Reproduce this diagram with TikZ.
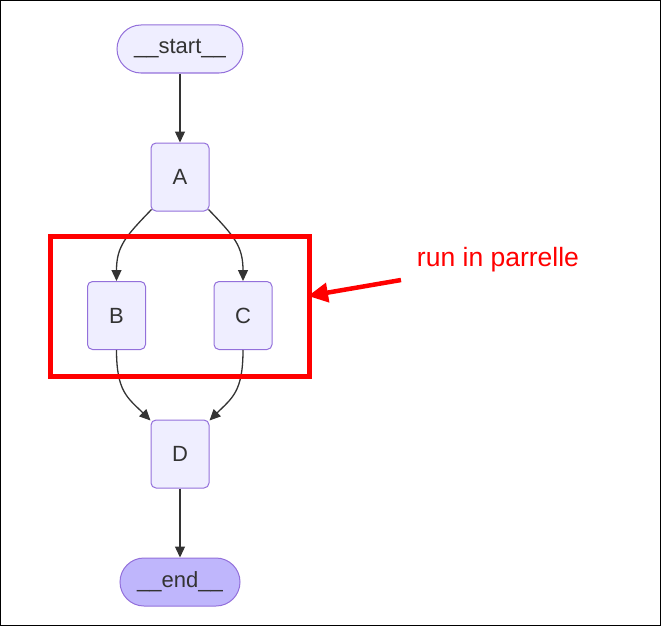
\documentclass[tikz,border=0pt]{standalone}
\usepackage{fontspec}
\setmainfont{Liberation Sans}
\usetikzlibrary{arrows.meta}
\definecolor{nodefill}{HTML}{EFEEFF}
\definecolor{nodeborder}{HTML}{9370DB}
\definecolor{endfill}{HTML}{BFB6FC}
\definecolor{txt}{HTML}{333333}
\definecolor{edgec}{HTML}{333333}
\definecolor{hl}{HTML}{FF0000}
\begin{document}
\begin{tikzpicture}[x=1pt,y=-1pt,
  lbl/.style={text=txt, font=\fontsize{22}{26}\selectfont},
  box/.style={lbl, draw=nodeborder, fill=nodefill, rounded corners=5pt, line width=1pt,
    minimum width=58pt, minimum height=68pt, inner sep=0pt},
  pill/.style={lbl, draw=nodeborder, fill=nodefill, rounded corners=24pt, line width=1pt,
    minimum height=48pt, inner sep=0pt},
  flow/.style={draw=edgec, line width=1.3pt, -{Triangle[length=11pt,width=10pt]}},
]
\useasboundingbox (0,0) rectangle (661,626);
\draw[line width=1pt] (0.5,0.5) rectangle (660.5,625.5);

\node[pill, minimum width=126pt] (start) at (180,49) {\_\_start\_\_};
\node[box] (A) at (180,177) {A};
\node[box] (B) at (116.5,315.5) {B};
\node[box] (C) at (243,315.5) {C};
\node[box] (D) at (180,454) {D};
\node[pill, fill=endfill, minimum width=120pt] (end) at (180,582) {\_\_end\_\_};

\draw[flow] (start) -- (A);
\draw[flow] ([shift={(1,-2)}]A.south west) .. controls (126,236) and (116.5,246) .. (B.north);
\draw[flow] ([shift={(-1,-2)}]A.south east) .. controls (234,236) and (243,246) .. (C.north);
\draw[flow] (B.south) .. controls (116.5,392) and (128,398) .. ([shift={(0,1)}]D.north west);
\draw[flow] (C.south) .. controls (243,392) and (232,398) .. ([shift={(0,1)}]D.north east);
\draw[flow] (D) -- (end);

\node[draw=hl, line width=5pt, minimum width=259pt, minimum height=140pt, inner sep=0pt] (grp) at (180,306.5) {};
\node[text=hl, font=\fontsize{26.5}{30}\selectfont] (note) at (498,260) {run in parrelle};
\coordinate (tail) at (401,280);
\coordinate (tip) at (308,296);
\draw[hl, line width=4.5pt, -{Triangle[length=20pt,width=19pt]}] (tail) -- (tip);
\end{tikzpicture}
\end{document}
